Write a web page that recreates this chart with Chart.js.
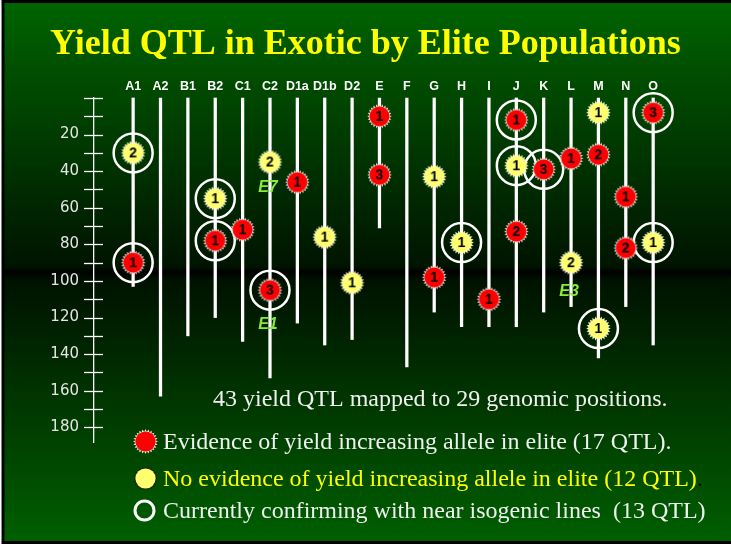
<!DOCTYPE html>
<html>
<head>
<meta charset="utf-8">
<title>Yield QTL in Exotic by Elite Populations</title>
<script src="https://cdn.jsdelivr.net/npm/chart.js@4"></script>
<style>
  html, body { margin: 0; padding: 0; background: #fff; }
  #wrap { width: 731px; height: 544px; position: relative; }
</style>
</head>
<body>
<div id="wrap"><canvas id="qtl"></canvas></div>
<script>
// chromosome segments (cM)
const columns = ['A1','A2','B1','B2','C1','C2','D1a','D1b','D2','E','F','G','H','I','J','K','L','M','N','O'];
const segEnd = [103, 163, 130, 120, 133, 153, 123, 135, 132, 71, 147, 117, 125, 125, 125, 117, 114, 142, 114, 135];
const yTicks = [0, 10, 20, 30, 40, 50, 60, 70, 80, 90, 100, 110, 120, 130, 140, 150, 160, 170, 180];

// QTL with evidence of yield increasing allele in elite (red)
const redCol = ['A1','B2','C1','C2','D1a','E','E','G','I','J','J','K','L','M','N','N','O'];
const redPos = [90, 78, 72, 105, 46, 10, 42, 98, 110, 12, 73, 39, 33, 31, 54, 82, 8];
const redNum = [1, 1, 1, 3, 1, 1, 3, 1, 1, 1, 2, 3, 1, 2, 1, 2, 3];

// no evidence (yellow)
const yellowCol = ['A1','B2','C2','D1b','D2','G','H','J','L','M','M','O'];
const yellowPos = [30, 55, 35, 76, 101, 43, 79, 37, 90, 8, 126, 79];
const yellowNum = [2, 1, 2, 1, 1, 1, 1, 1, 2, 1, 1, 1];

// currently confirming with near isogenic lines (rings)
const ringCol = ['A1','A1','B2','B2','C2','H','J','J','K','M','O','O'];
const ringPos = [30, 90, 55, 78, 105, 79, 12, 37, 39, 126, 8, 79];

// environment tags
const envText = ['E7', 'E1', 'E3'];
const envCol = ['C2', 'C2', 'L'];
const envPos = [49, 124, 106];

const footnote = '43 yield QTL mapped to 29 genomic positions.';
const legendText = [
  'Evidence of yield increasing allele in elite (17 QTL).',
  'No evidence of yield increasing allele in elite (12 QTL)',
  'Currently confirming with near isogenic lines  (13 QTL)'
];

function sunburst(fill, spike, num, r) {
  const size = Math.ceil(r * 2 + 2);
  const c = document.createElement('canvas');
  c.width = size; c.height = size;
  const g = c.getContext('2d');
  const cx = size / 2, cy = size / 2;
  const n = 24;
  g.beginPath();
  for (let i = 0; i < n * 2; i++) {
    const a = Math.PI * i / n;
    const rr = i % 2 ? r - 2.6 : r;
    g.lineTo(cx + rr * Math.cos(a), cy + rr * Math.sin(a));
  }
  g.closePath();
  g.fillStyle = spike;
  g.fill();
  g.beginPath();
  g.arc(cx, cy, r - 2.4, 0, Math.PI * 2);
  g.fillStyle = fill;
  g.fill();
  if (num) {
    g.fillStyle = '#000';
    g.font = 'bold 14px "Liberation Sans", Arial, sans-serif';
    g.textAlign = 'center';
    g.textBaseline = 'middle';
    g.fillText(num, cx, cy + 1);
  }
  return c;
}

const RED = '#ff0000', YEL = '#ffff70';
const redImgs = {}, yelImgs = {};
[1, 2, 3].forEach(n => {
  redImgs[n] = sunburst(RED, '#f4e4e4', n, 12.3);
  yelImgs[n] = sunburst(YEL, '#fffbe0', n, 12.3);
});

const col = name => columns.indexOf(name);

const background = {
  id: 'background',
  beforeDraw(chart) {
    const ctx = chart.ctx;
    const h = chart.height, w = chart.width;
    const g = ctx.createLinearGradient(0, 0, 0, h);
    g.addColorStop(0, '#006400');
    g.addColorStop(0.49, '#001400');
    g.addColorStop(0.5, '#000000');
    g.addColorStop(0.515, '#001200');
    g.addColorStop(1, '#006000');
    ctx.save();
    ctx.fillStyle = g;
    ctx.fillRect(0, 0, w, h);
    ctx.fillStyle = '#000';
    ctx.fillRect(0, 0, w, 3);
    ctx.fillRect(1.5, 0, 3, h);
    ctx.fillRect(0, h - 3, w, 3);
    ctx.fillStyle = '#fff';
    ctx.fillRect(0, 0, 1.5, h);
    ctx.restore();
  }
};

const extras = {
  id: 'extras',
  afterDraw(chart) {
    const ctx = chart.ctx;
    const ys = chart.scales.y, xs = chart.scales.x;
    ctx.save();
    // crossing tick marks on the cM axis
    ctx.strokeStyle = '#fff';
    ctx.lineWidth = 1.3;
    yTicks.forEach(v => {
      const y = Math.round(ys.getPixelForValue(v)) + 0.5;
      ctx.beginPath();
      ctx.moveTo(ys.right - 10, y);
      ctx.lineTo(ys.right + 9, y);
      ctx.stroke();
    });
    // environment tags
    ctx.fillStyle = '#88ee33';
    ctx.font = 'italic bold 16px "Liberation Sans", Arial, sans-serif';
    ctx.textAlign = 'center';
    ctx.textBaseline = 'middle';
    envText.forEach((t, i) => {
      ctx.fillText(t, xs.getPixelForValue(col(envCol[i])) - 2, ys.getPixelForValue(envPos[i]));
    });
    // footnote and legend
    ctx.textAlign = 'left';
    ctx.textBaseline = 'alphabetic';
    ctx.font = '24px "Liberation Serif", "Times New Roman", serif';
    ctx.fillStyle = '#f0f0f0';
    ctx.fillText(footnote, 213, 406);
    ctx.drawImage(sunburst(RED, '#f4e4e4', 0, 12.5), 132, 428);
    ctx.drawImage(sunburst(YEL, '#202000', 0, 12.5), 132, 465);
    ctx.fillStyle = '#f0f0f0';
    ctx.fillText(legendText[0], 163, 449);
    ctx.fillStyle = '#ffff00';
    ctx.fillText(legendText[1], 163, 486);
    const wdt = ctx.measureText(legendText[1]).width;
    ctx.fillStyle = '#000';
    ctx.fillText('.', 163 + wdt, 486);
    ctx.fillStyle = '#f0f0f0';
    ctx.fillText(legendText[2], 163, 518);
    ctx.strokeStyle = '#fff';
    ctx.lineWidth = 3;
    ctx.beginPath();
    ctx.arc(144.5, 510.5, 9.5, 0, Math.PI * 2);
    ctx.stroke();
    ctx.restore();
  }
};

new Chart(document.getElementById('qtl'), {
  type: 'bar',
  data: {
    datasets: [
      {
        type: 'line',
        data: redCol.map((c, i) => ({ x: col(c), y: redPos[i] })),
        showLine: false,
        pointStyle: c => redImgs[redNum[c.dataIndex]],
        clip: false,
        order: 1
      },
      {
        type: 'line',
        data: yellowCol.map((c, i) => ({ x: col(c), y: yellowPos[i] })),
        showLine: false,
        pointStyle: c => yelImgs[yellowNum[c.dataIndex]],
        clip: false,
        order: 1
      },
      {
        type: 'line',
        data: ringCol.map((c, i) => ({ x: col(c), y: ringPos[i] })),
        showLine: false,
        pointStyle: 'circle',
        pointRadius: 19.5,
        pointBorderWidth: 2.5,
        pointBorderColor: '#fff',
        pointBackgroundColor: 'rgba(0,0,0,0)',
        clip: false,
        order: 2
      },
      {
        type: 'bar',
        data: columns.map((c, i) => ({ x: i, y: [0, segEnd[i]] })),
        backgroundColor: '#fff',
        borderWidth: 0,
        barThickness: 2.6,
        grouped: false,
        clip: false,
        order: 3
      }
    ]
  },
  options: {
    responsive: true,
    maintainAspectRatio: false,
    animation: false,
    events: [],
    layout: { padding: { top: 0, left: 0, right: 0, bottom: 102 } },
    plugins: {
      legend: { display: false },
      tooltip: { enabled: false },
      title: {
        display: true,
        text: 'Yield QTL in Exotic by Elite Populations',
        color: '#ffff00',
        font: { family: '"Liberation Serif", "Times New Roman", serif', size: 36, weight: 'bold', lineHeight: 1.2 },
        padding: { top: 23, bottom: 4 }
      }
    },
    scales: {
      x: {
        type: 'linear',
        position: 'top',
        offset: false,
        min: -1.43,
        max: 21.04,
        grid: { display: false, drawTicks: false, tickLength: 0 },
        border: { display: false },
        afterBuildTicks: s => { s.ticks = columns.map((c, i) => ({ value: i })); },
        afterFit: s => { s.height = 27.8; },
        ticks: {
          autoSkip: false,
          maxRotation: 0,
          padding: 4,
          color: '#fff',
          font: { family: '"Liberation Sans", Arial, sans-serif', size: 12.5, weight: 'bold' },
          callback: v => columns[v]
        }
      },
      y: {
        type: 'linear',
        position: 'left',
        reverse: true,
        min: 0,
        max: 188,
        grid: { display: false, drawTicks: false, tickLength: 0 },
        border: { display: true, color: '#fff', width: 1.3 },
        afterBuildTicks: s => { s.ticks = yTicks.map(v => ({ value: v })); },
        afterFit: s => { s.width = 94; },
        ticks: {
          padding: 15,
          color: '#e4e4e4',
          font: { family: '"DejaVu Sans", sans-serif', size: 15 },
          callback: v => (v > 0 && v % 20 === 0 ? String(v) : '')
        }
      }
    }
  },
  plugins: [background, extras]
});
</script>
</body>
</html>
